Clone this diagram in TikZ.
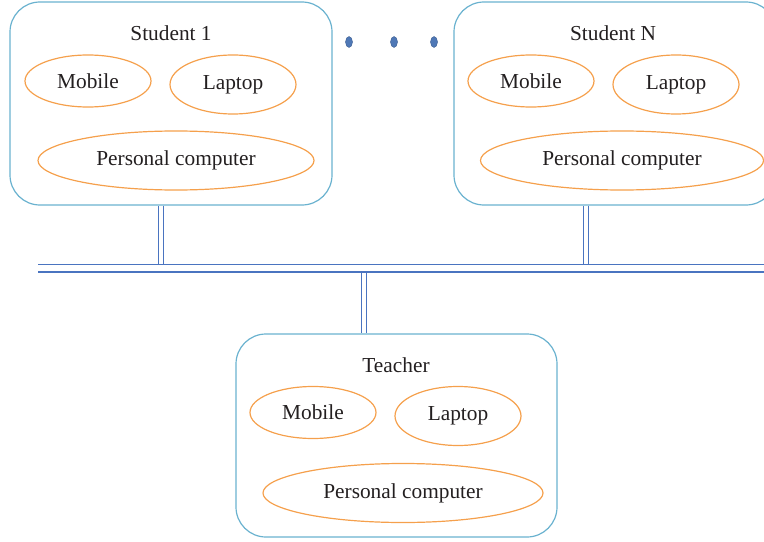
\documentclass[tikz,border=0pt]{standalone}
\usepackage{fontspec}
\setmainfont{Liberation Serif}
\usetikzlibrary{shapes.geometric}

\definecolor{boxblue}{HTML}{6AB2CF}
\definecolor{devorange}{HTML}{F5A04C}
\definecolor{linkblue}{HTML}{4A74C0}
\definecolor{dotblue}{HTML}{4F78B6}
\definecolor{inktext}{HTML}{231F20}

\tikzset{
  groupbox/.style={draw=boxblue, line width=0.9pt, rounded corners=22.5pt,
    minimum width=322*0.75pt, minimum height=203*0.75pt, inner sep=0pt},
  grouptitle/.style={text=inktext, font=\fontsize{16}{19}\selectfont, inner sep=0pt},
  device/.style={ellipse, draw=devorange, line width=0.9pt, text=inktext,
    font=\fontsize{16}{19}\selectfont, inner sep=0pt},
  smalldev/.style={device, minimum width=126*0.75pt, minimum height=52*0.75pt},
  laptopdev/.style={device, minimum width=126*0.75pt, minimum height=59*0.75pt},
  pcdev/.style={device, minimum width=276*0.75pt, minimum height=59*0.75pt},
  link/.style={draw=linkblue, line width=0.8pt, double=white, double distance=4.4*0.75pt},
  bus/.style={draw=linkblue, line width=1pt, double=white, double distance=6.3*0.75pt},
  moredot/.style={ellipse, fill=dotblue, draw=dotblue!80!black, line width=0.3pt,
    minimum width=7*0.75pt, minimum height=11*0.75pt, inner sep=0pt}
}

\begin{document}
\begin{tikzpicture}[x=0.75pt, y=-0.75pt]
  \useasboundingbox (0,0) rectangle (764,542);
  \clip (0,0) rectangle (764,542);

  % Student 1
  \node[groupbox] (s1) at (171,103.5) {};
  \node[grouptitle] (s1t) at (171,33) {Student 1};
  \node[smalldev] (s1m) at (88,81) {Mobile};
  \node[laptopdev] (s1l) at (233,84.5) {Laptop};
  \node[pcdev] (s1p) at (176,160.5) {Personal computer};

  % Student N
  \node[groupbox] (sn) at (615,103.5) {};
  \node[grouptitle] (snt) at (613,33) {Student N};
  \node[smalldev] (snm) at (531,81) {Mobile};
  \node[laptopdev] (snl) at (676,84.5) {Laptop};
  \node[pcdev, minimum width=283*0.75pt] (snp) at (622,160.5) {Personal computer};

  % the students in between
  \node[moredot] (d1) at (349,42) {};
  \node[moredot] (d2) at (394,42) {};
  \node[moredot] (d3) at (434,42) {};

  % Teacher
  \node[groupbox, minimum width=321*0.75pt] (tb) at (396.5,435.5) {};
  \node[grouptitle] (tt) at (396,365) {Teacher};
  \node[smalldev] (tm) at (313,412.5) {Mobile};
  \node[laptopdev] (tl) at (458,416) {Laptop};
  \node[pcdev, minimum width=280*0.75pt] (tp) at (403,493) {Personal computer};

  % network bus
  \coordinate (busL) at (38,268.3);
  \coordinate (busR) at (800,268.3);
  \coordinate (busTop) at (0,264.5);
  \coordinate (busBot) at (0,272);

  \coordinate (s1j) at (161.2,0);
  \coordinate (snj) at (585.8,0);
  \coordinate (tj) at (364,0);

  \draw[link] (s1j |- s1.south) -- (s1j |- busTop);
  \draw[link] (snj |- sn.south) -- (snj |- busTop);
  \draw[link] (tj |- busBot) -- (tj |- tb.north);
  \draw[bus] (busL) -- (busR);
\end{tikzpicture}
\end{document}
